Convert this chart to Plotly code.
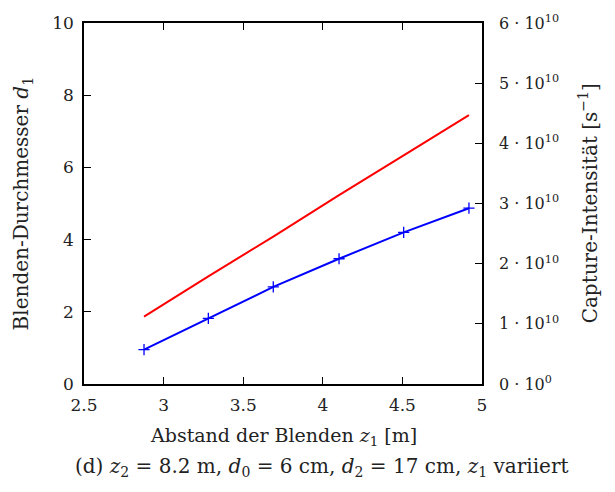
import plotly.graph_objects as go

# data
z1 = [2.877, 3.281, 3.689, 4.102, 4.508, 4.918]
d1 = [0.95, 1.82, 2.69, 3.47, 4.20, 4.87]
intensity = [1.12e10, 1.79e10, 2.45e10, 3.14e10, 3.80e10, 4.47e10]

x_ticks = [2.5, 3, 3.5, 4, 4.5, 5]
x_ticklabels = ["2.5", "3", "3.5", "4", "4.5", "5"]
y_ticks = [0, 2, 4, 6, 8, 10]
y2_ticks = [0, 1e10, 2e10, 3e10, 4e10, 5e10, 6e10]
y2_ticklabels = ["0 · 10<sup>0</sup>"] + [f"{i} · 10<sup>10</sup>" for i in range(1, 7)]

FONT = "DejaVu Serif"
TXT = "#222"

fig = go.Figure()
fig.add_trace(go.Scatter(
    x=z1, y=d1, mode="lines+markers",
    line=dict(color="#0000ff", width=2),
    marker=dict(symbol="cross-thin", size=8, line=dict(color="#0000ff", width=1.3)),
    yaxis="y", showlegend=False))
fig.add_trace(go.Scatter(
    x=z1, y=intensity, mode="lines",
    line=dict(color="#ff0000", width=2),
    yaxis="y2", showlegend=False))

axis_common = dict(showgrid=False, zeroline=False, showline=True, linecolor="black",
                   linewidth=1.6, ticks="inside", ticklen=7, tickwidth=1.2, tickcolor="black")

fig.update_layout(
    width=615, height=492,
    margin=dict(l=84, r=133, t=20, b=108),
    plot_bgcolor="white", paper_bgcolor="white",
    xaxis=dict(range=[2.5, 5], tickvals=x_ticks, ticktext=x_ticklabels, mirror="ticks",
               ticklabelstandoff=5, tickfont=dict(family=FONT, size=17, color=TXT),
               **axis_common),
    yaxis=dict(range=[0, 10], tickvals=y_ticks, ticklabelstandoff=5,
               tickfont=dict(family=FONT, size=17, color=TXT), **axis_common),
    yaxis2=dict(range=[0, 6e10], tickvals=y2_ticks, ticktext=y2_ticklabels,
                overlaying="y", side="right", ticklabelstandoff=12,
                tickfont=dict(family=FONT, size=16, color=TXT), **axis_common),
    annotations=[
        dict(text="Blenden-Durchmesser <i>d</i><sub>1</sub>", xref="paper", yref="paper",
             x=-0.156, y=0.5, textangle=-90, showarrow=False,
             font=dict(family=FONT, size=20, color=TXT), xanchor="center", yanchor="middle"),
        dict(text="Capture-Intensität [s<sup>−1</sup>]", xref="paper", yref="paper",
             x=1.266, y=0.5, textangle=-90, showarrow=False,
             font=dict(family=FONT, size=20, color=TXT), xanchor="center", yanchor="middle"),
        dict(text="Abstand der Blenden <i>z</i><sub>1</sub> [m]", xref="paper", yref="paper",
             x=0.5, y=-0.1456, showarrow=False,
             font=dict(family=FONT, size=19, color=TXT), xanchor="center", yanchor="middle"),
        dict(text="(d) <i>z</i><sub>2</sub> = 8.2 m, <i>d</i><sub>0</sub> = 6 cm, "
                  "<i>d</i><sub>2</sub> = 17 cm, <i>z</i><sub>1</sub> variiert",
             xref="paper", yref="paper", x=0.596, y=-0.231, showarrow=False,
             font=dict(family=FONT, size=20, color=TXT), xanchor="center", yanchor="middle"),
    ],
)

fig.write_html("out.html")
